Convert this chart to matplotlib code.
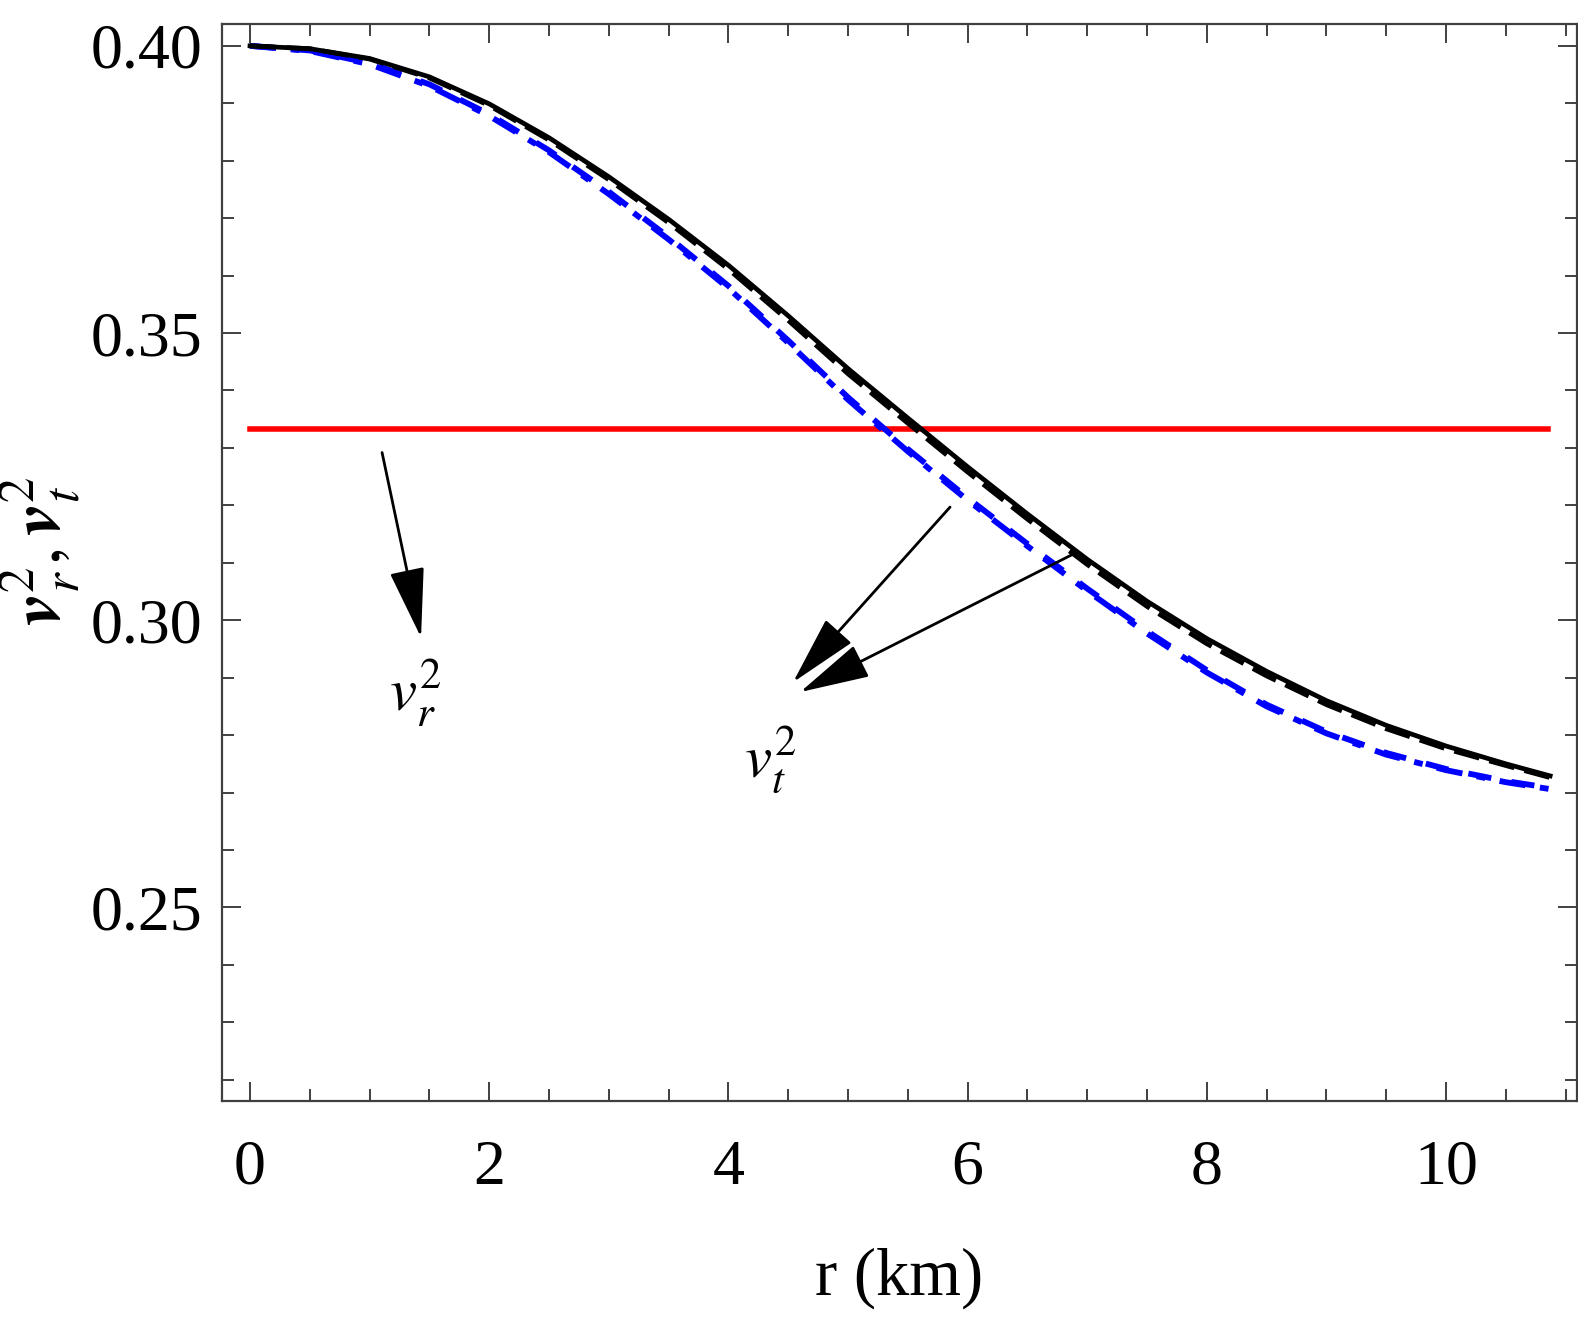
import matplotlib
matplotlib.use("Agg")
import matplotlib.pyplot as plt
from matplotlib.ticker import MultipleLocator, FixedLocator, FormatStrFormatter

plt.rcParams['font.family'] = ['Liberation Serif', 'DejaVu Serif']
plt.rcParams['mathtext.fontset'] = 'stix'

# radius (km)
r = [0, 0.5, 1.0, 1.5, 2.0, 2.5, 3.0, 3.5, 4.0, 4.5, 5.0, 5.5, 6.0, 6.5,
     7.0, 7.5, 8.0, 8.5, 9.0, 9.5, 10.0, 10.5, 10.87]

# black solid
v_solid = [0.4000, 0.3995, 0.3978, 0.3946, 0.3899, 0.3840, 0.3772, 0.3698,
           0.3618, 0.3530, 0.3438, 0.3352, 0.3267, 0.3185, 0.3106, 0.3033,
           0.2968, 0.2911, 0.2860, 0.2817, 0.2781, 0.2750, 0.2729]
# black dashed
v_dash = [0.4000, 0.3995, 0.3977, 0.3944, 0.3896, 0.3836, 0.3767, 0.3692,
          0.3611, 0.3522, 0.3429, 0.3343, 0.3258, 0.3176, 0.3097, 0.3024,
          0.2959, 0.2903, 0.2853, 0.2811, 0.2776, 0.2747, 0.2726]
# blue dashed
v_blue1 = [0.4000, 0.3992, 0.3970, 0.3933, 0.3881, 0.3818, 0.3746, 0.3667,
           0.3582, 0.3487, 0.3388, 0.3298, 0.3213, 0.3133, 0.3055, 0.2981,
           0.2913, 0.2853, 0.2806, 0.2769, 0.2741, 0.2720, 0.2708]
# blue dash-dot
v_blue2 = [0.4000, 0.3991, 0.3968, 0.3930, 0.3878, 0.3815, 0.3742, 0.3663,
           0.3578, 0.3483, 0.3384, 0.3294, 0.3209, 0.3129, 0.3051, 0.2977,
           0.2909, 0.2850, 0.2803, 0.2766, 0.2739, 0.2718, 0.2706]

# reference level 1/3
r_red = [0, 10.85]
v_red = [1/3, 1/3]

fig = plt.figure(figsize=(15.78, 13.27), dpi=100)
ax = fig.add_axes([0.1407, 0.1703, 0.8587, 0.8116])

ax.plot(r_red, v_red, color='red', lw=4, zorder=2)
ax.plot(r, v_blue2, color='blue', lw=4.2, dashes=(4.5, 2.5, 1.5, 2.5), zorder=3)
ax.plot(r, v_blue1, color='blue', lw=4.2, dashes=(4.0, 3.5), zorder=3)
ax.plot(r, v_dash, color='black', lw=3.4, dashes=(5.5, 2.2), zorder=4)
ax.plot(r, v_solid, color='black', lw=3.4, zorder=5)

arrow = dict(arrowstyle='-|>,head_length=2.2,head_width=0.55', color='black',
             lw=2, shrinkA=0, shrinkB=0, mutation_scale=20)
ax.annotate('', xy=(1.43, 0.2970), xytext=(1.104, 0.3292), arrowprops=arrow)
ax.annotate('', xy=(4.54, 0.2892), xytext=(5.853, 0.3197), arrowprops=arrow)
ax.annotate('', xy=(4.60, 0.2875), xytext=(6.881, 0.3115), arrowprops=arrow)

ax.text(1.38, 0.2873, r'$v_r^2$', fontsize=44, ha='center', va='center')
ax.text(4.35, 0.2758, r'$v_t^2$', fontsize=44, ha='center', va='center')

ax.set_xlim(-0.234, 11.095)
ax.set_ylim(0.2163, 0.4038)

ax.xaxis.set_major_locator(FixedLocator([0, 2, 4, 6, 8, 10]))
ax.xaxis.set_minor_locator(MultipleLocator(0.5))
ax.yaxis.set_major_locator(FixedLocator([0.25, 0.30, 0.35, 0.40]))
ax.yaxis.set_minor_locator(MultipleLocator(0.01))
ax.yaxis.set_major_formatter(FormatStrFormatter('%.2f'))

ax.tick_params(which='both', direction='in', top=True, right=True,
               color='0.25', width=1.4)
ax.tick_params(which='major', length=14, labelsize=46)
ax.tick_params(which='minor', length=8.5)
ax.tick_params(axis='x', which='major', pad=28)
ax.tick_params(axis='y', which='major', pad=14)
for s in ax.spines.values():
    s.set_linewidth(1.6)
    s.set_color('0.25')

ax.set_xlabel('r (km)', fontsize=48, labelpad=36)
ax.set_ylabel(r'$\mathbfit{v}_r^2,\mathbfit{v}_t^2$', fontsize=52)
ax.yaxis.set_label_coords(-0.102, 0.51)

plt.savefig('out.png', dpi=100)
